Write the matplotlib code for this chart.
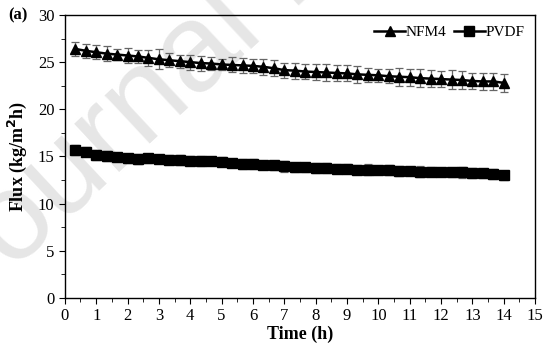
import numpy as np
import matplotlib
matplotlib.use("Agg")
import matplotlib.pyplot as plt
from matplotlib.ticker import MultipleLocator

# ---- data ----
time_h = [i / 3 for i in range(1, 43)]

nfm4 = [26.4, 26.2, 26.05, 25.9, 25.8, 25.7, 25.6, 25.45, 25.3, 25.2,
        25.1, 25.0, 24.9, 24.85, 24.75, 24.7, 24.65, 24.6, 24.5, 24.35,
        24.15, 24.1, 24.0, 23.95, 23.9, 23.85, 23.8, 23.7, 23.65, 23.6,
        23.5, 23.45, 23.4, 23.3, 23.25, 23.2, 23.15, 23.1, 23.0, 22.95,
        22.95, 22.8]
nfm4_err = [0.7, 0.74, 0.74, 0.76, 0.58, 0.8, 0.67, 0.85, 1.05, 0.74,
            0.7, 0.8, 0.8, 0.7, 0.6, 0.8, 0.83, 0.78, 0.85, 0.83,
            0.8, 0.85, 0.78, 0.88, 0.85, 0.81, 0.85, 0.87, 0.74, 0.7,
            0.72, 0.95, 0.88, 0.94, 0.88, 0.88, 1.0, 0.92, 0.88, 0.92,
            0.88, 0.94]

pvdf = [15.7, 15.5, 15.15, 15.05, 14.9, 14.8, 14.75, 14.8, 14.75, 14.65,
        14.6, 14.55, 14.5, 14.5, 14.45, 14.3, 14.2, 14.2, 14.1, 14.05,
        13.95, 13.85, 13.85, 13.75, 13.75, 13.7, 13.7, 13.6, 13.6, 13.55,
        13.55, 13.45, 13.45, 13.4, 13.4, 13.35, 13.3, 13.3, 13.25, 13.2,
        13.15, 13.0]
pvdf_err = [0.5, 0.45, 0.5, 0.55, 0.4, 0.5, 0.55, 0.5, 0.45, 0.5,
            0.55, 0.45, 0.5, 0.45, 0.5, 0.45, 0.55, 0.5, 0.45, 0.5,
            0.55, 0.5, 0.45, 0.5, 0.55, 0.45, 0.5, 0.5, 0.55, 0.45,
            0.5, 0.5, 0.45, 0.55, 0.5, 0.45, 0.5, 0.55, 0.5, 0.45,
            0.5, 0.5]

plt.rcParams['font.family'] = ['Liberation Serif', 'DejaVu Serif']

fig = plt.figure(figsize=(5.54, 3.48), dpi=100)
ax = fig.add_axes([0.117, 0.144, 0.849, 0.813])
ax.set_facecolor("none")

# faint watermark behind everything
fig.text(-0.061, 0.094, "Journal Pre-proof", fontsize=90, color="#e6e6e6",
         rotation=43, rotation_mode="anchor", ha="left", va="baseline",
         family="Liberation Sans", zorder=-5)

ax.errorbar(time_h, nfm4, yerr=nfm4_err, color="black", marker="^", markersize=7,
            linewidth=1.8, ecolor="#666666", elinewidth=0.9, capsize=3, capthick=0.9,
            label="NFM4")
ax.errorbar(time_h, pvdf, yerr=pvdf_err, color="black", marker="s", markersize=6.5,
            linewidth=1.8, ecolor="#666666", elinewidth=0.9, capsize=3, capthick=0.9,
            label="PVDF")

ax.set_xlim(0, 15)
ax.set_ylim(0, 30)
ax.xaxis.set_major_locator(MultipleLocator(1))
ax.xaxis.set_minor_locator(MultipleLocator(0.5))
ax.yaxis.set_major_locator(MultipleLocator(5))
ax.yaxis.set_minor_locator(MultipleLocator(2.5))
ax.tick_params(which="both", direction="out", labelsize=12, colors="black")
ax.tick_params(which="major", length=4)
ax.tick_params(which="minor", length=3)
for s in ax.spines.values():
    s.set_linewidth(1.0)

ax.set_xlabel("Time (h)", fontsize=13, fontweight="bold", labelpad=1)
ax.set_ylabel("Flux (kg/m$^\\mathbf{2}$h)", fontsize=13, fontweight="bold", labelpad=6)

handles, labels = ax.get_legend_handles_labels()
handles = [h[0] for h in handles]
ax.legend(handles, labels, loc="upper right", ncol=2, frameon=False, fontsize=11,
          handlelength=2.0, handletextpad=0.05, columnspacing=0.5,
          borderaxespad=0.3)

fig.text(0.015, 0.955, "(a)", fontsize=12, fontweight="bold", va="center")

fig.savefig("out.png", dpi=100)
